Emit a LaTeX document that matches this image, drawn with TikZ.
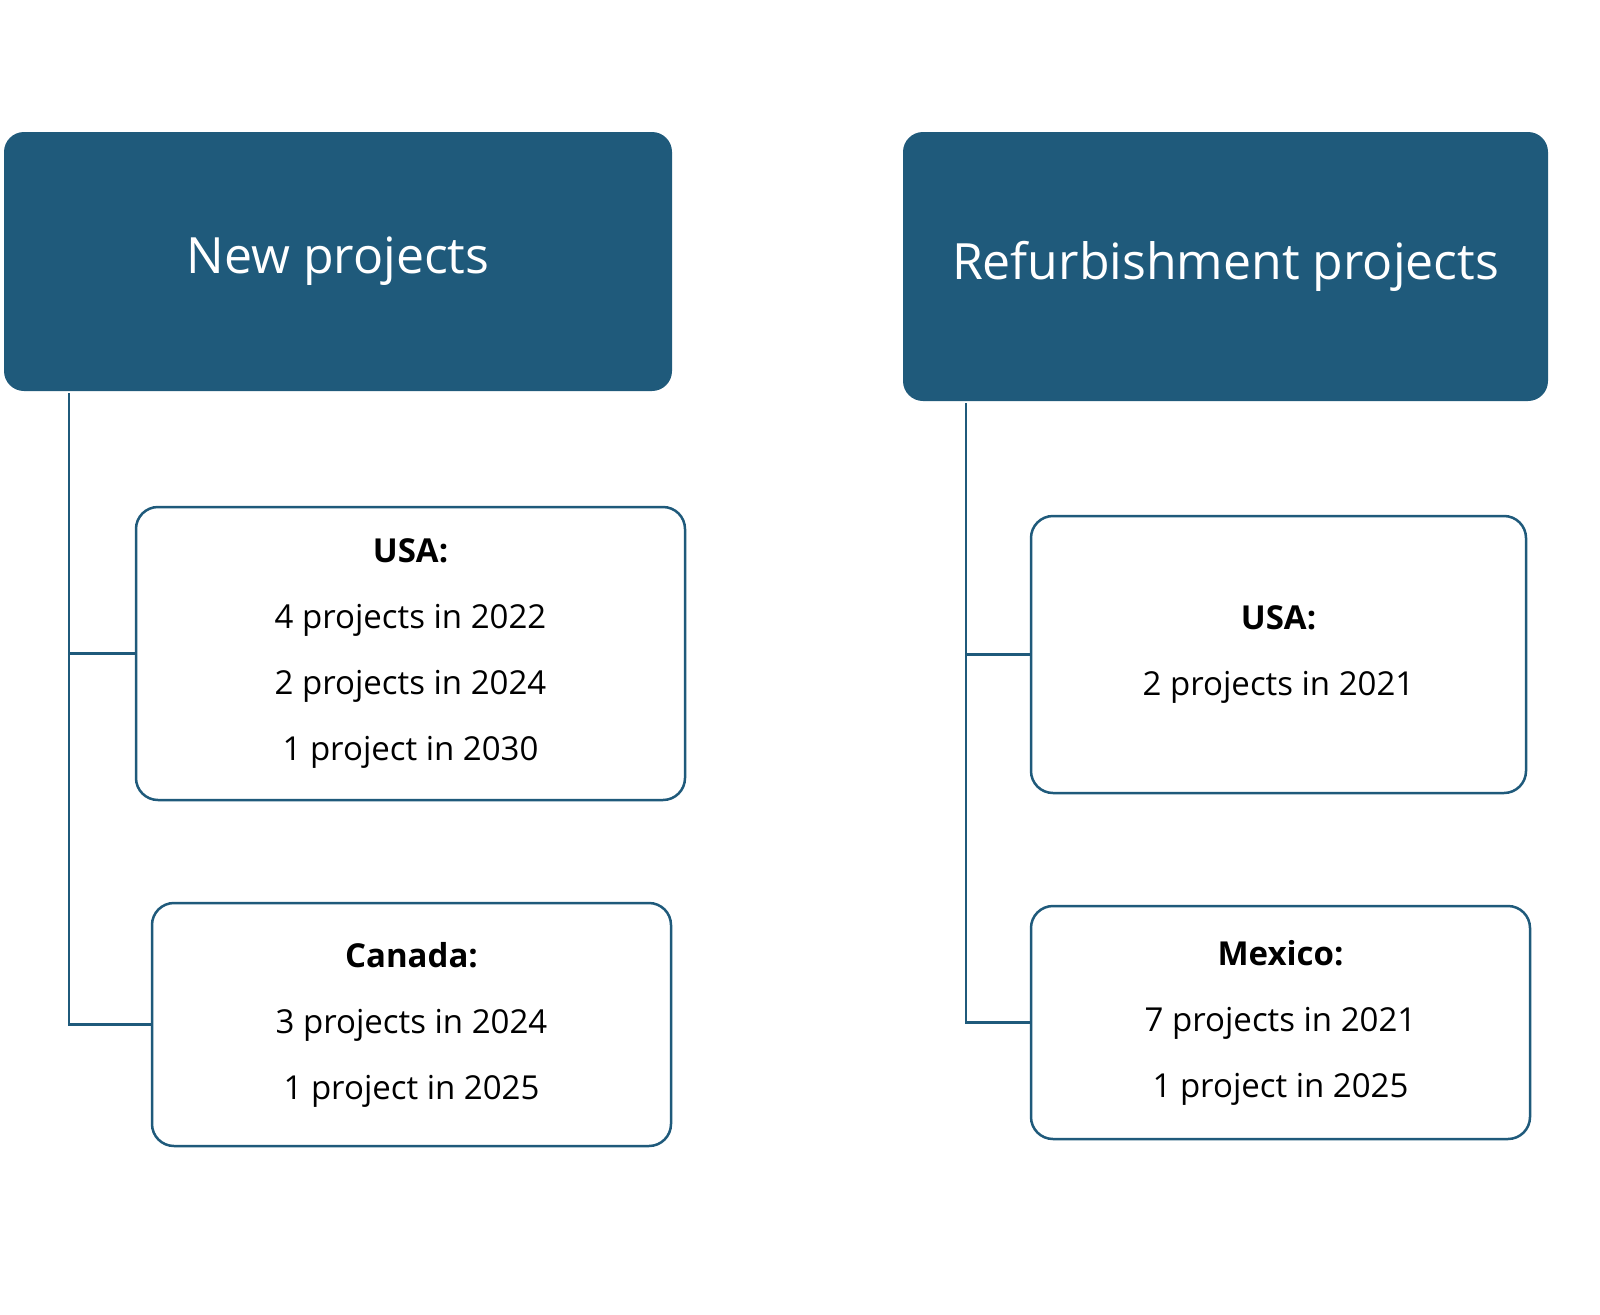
\documentclass[tikz,border=0pt]{standalone}
\usepackage{fontspec}
\setmainfont{Open Sans}
\definecolor{hdr}{HTML}{1F5A7B}
\begin{document}
\begin{tikzpicture}[x=1pt,y=-1pt,
  head/.style={draw=none,fill=hdr,rounded corners=20pt,text=white,font=\fontsize{50}{60}\selectfont,inner sep=0pt},
  item/.style={draw=hdr,line width=2.5pt,fill=white,rounded corners=22pt,align=center,font=\fontsize{33}{66}\selectfont,inner sep=0pt},
  conn/.style={draw=hdr,line width=2.5pt}]
\useasboundingbox (0,0) rectangle (1600,1314);
\node[head,minimum width=668pt,minimum height=259pt] (h1) at (338,261.5) {New projects};
\node[head,minimum width=645pt,minimum height=269pt] (h2) at (1225.5,266.5) {Refurbishment projects};
\node[item,minimum width=549pt,minimum height=293pt] (u1) at (410.5,653.5) {\textbf{USA:}\\4 projects in 2022\\2 projects in 2024\\1 project in 2030};
\node[item,minimum width=519pt,minimum height=243pt] (c1) at (411.5,1024.5) {\textbf{Canada:}\\3 projects in 2024\\1 project in 2025};
\node[item,minimum width=495pt,minimum height=277pt] (u2) at (1278.5,654.5) {\textbf{USA:}\\2 projects in 2021};
\node[item,minimum width=499pt,minimum height=233pt] (m2) at (1280.5,1022.5) {\textbf{Mexico:}\\7 projects in 2021\\1 project in 2025};
\coordinate (a1) at (69,393);
\coordinate (a2) at (966,403);
\draw[conn] (a1) |- (c1.west);
\draw[conn] (a1 |- u1.west) -- (u1.west);
\draw[conn] (a2) |- (m2.west);
\draw[conn] (a2 |- u2.west) -- (u2.west);
\end{tikzpicture}
\end{document}
